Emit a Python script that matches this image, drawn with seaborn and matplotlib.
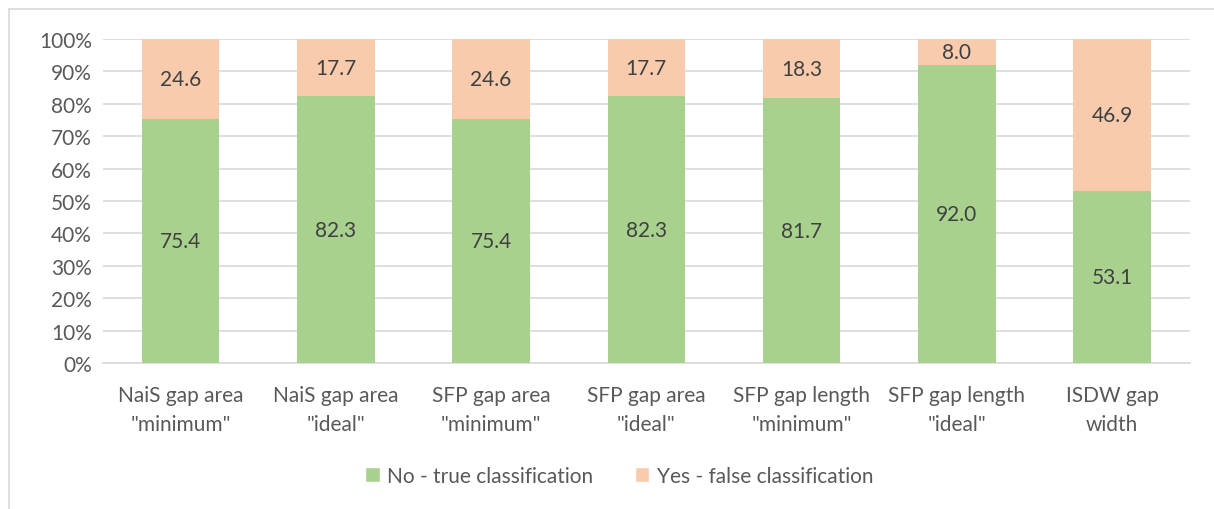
import numpy as np
import pandas as pd
import matplotlib
matplotlib.use("Agg")
import matplotlib.pyplot as plt
import seaborn as sns
from matplotlib.patches import Patch
from matplotlib.lines import Line2D

categories = ['NaiS gap area\n"minimum"', 'NaiS gap area\n"ideal"', 'SFP gap area\n"minimum"',
              'SFP gap area\n"ideal"', 'SFP gap length\n"minimum"', 'SFP gap length\n"ideal"',
              'ISDW gap\nwidth']
no_true = [75.4, 82.3, 75.4, 82.3, 81.7, 92.0, 53.1]
yes_false = [24.6, 17.7, 24.6, 17.7, 18.3, 8.0, 46.9]
series_names = ["No - true classification", "Yes - false classification"]

green = "#A9D18E"
orange = "#F8CBAD"
text_col = "#595959"
fs = 15

sns.set_style("white")
plt.rcParams["font.family"] = ["Lato", "DejaVu Sans"]

df = pd.DataFrame({"cat": categories, "no": no_true, "yes": yes_false})
df["total"] = df["no"] + df["yes"]

fig = plt.figure(figsize=(12.14, 5.10), dpi=100)
ax = fig.add_axes([0.0848, 0.2863, 0.8952, 0.6353])

sns.barplot(data=df, x="cat", y="total", color=orange, width=0.5, saturation=1,
            linewidth=0, ax=ax, zorder=2)
sns.barplot(data=df, x="cat", y="no", color=green, width=0.5, saturation=1,
            linewidth=0, ax=ax, zorder=3)

for i, row in df.iterrows():
    ax.text(i, row["no"] / 2, f'{row["no"]:.1f}', ha="center", va="center",
            fontsize=fs, color="#404040", zorder=4)
    ax.text(i, row["no"] + row["yes"] / 2, f'{row["yes"]:.1f}', ha="center", va="center",
            fontsize=fs, color="#404040", zorder=4)

ax.set_ylim(0, 100)
ax.set_xlim(-0.5, len(categories) - 0.5)
ax.set_yticks(np.arange(0, 101, 10))
ax.set_yticklabels([f"{v}%" for v in range(0, 101, 10)])
ax.yaxis.grid(True, color="#D9D9D9", linewidth=1.2, zorder=0)
ax.set_axisbelow(True)
for s in ["top", "right", "left"]:
    ax.spines[s].set_visible(False)
ax.spines["bottom"].set_color("#D9D9D9")
ax.spines["bottom"].set_linewidth(1.2)
ax.tick_params(axis="y", length=0, labelsize=fs, colors=text_col, pad=8)
ax.tick_params(axis="x", length=0, labelsize=fs, colors=text_col, pad=16)
for lbl in ax.get_xticklabels():
    lbl.set_linespacing(1.55)
ax.set_xlabel("")
ax.set_ylabel("")

handles = [Patch(facecolor=green, label=series_names[0]),
           Patch(facecolor=orange, label=series_names[1])]
leg = fig.legend(handles=handles, loc="center", bbox_to_anchor=(0.51, 0.065), ncol=2,
                 frameon=False, fontsize=fs, handlelength=0.7, handleheight=0.7,
                 handletextpad=0.35, columnspacing=2.0)
for t in leg.get_texts():
    t.set_color(text_col)

# chart frame (top and left edges visible in the reference)
fig.add_artist(Line2D([9 / 1214, 9 / 1214], [0, 1 - 10 / 510], transform=fig.transFigure,
                      color="#D9D9D9", linewidth=1.2))
fig.add_artist(Line2D([9 / 1214, 1], [1 - 10 / 510, 1 - 10 / 510], transform=fig.transFigure,
                      color="#D9D9D9", linewidth=1.2))

fig.savefig("out.png", dpi=100)
